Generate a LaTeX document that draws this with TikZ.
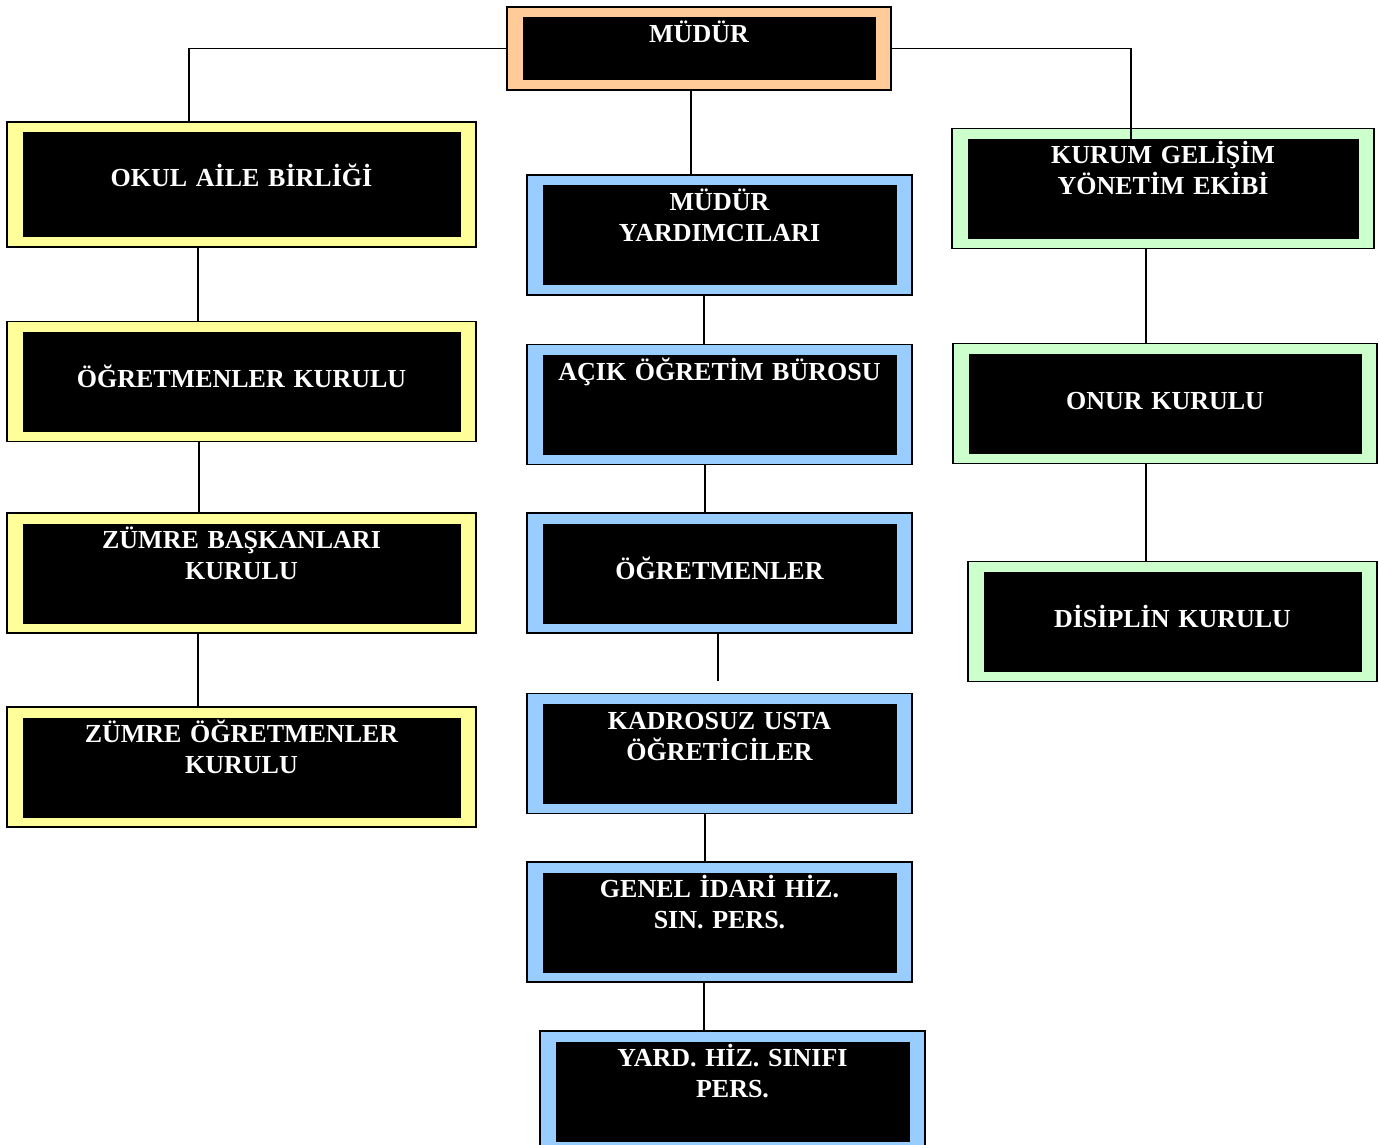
\documentclass[tikz,border=0pt]{standalone}
\usepackage{fontspec}
\setmainfont{Liberation Serif}
\usepackage{tikz}
\usetikzlibrary{positioning,calc}
\definecolor{peach}{RGB}{255,204,153}
\definecolor{lemon}{RGB}{255,255,153}
\definecolor{sky}{RGB}{153,204,255}
\definecolor{mint}{RGB}{204,255,204}
\tikzset{
    unit/.style={
        rectangle,
        draw=black,
        line width=0.9pt,
        inner sep=0pt,
        align=center,
        text=white,
        font=\fontsize{13}{15.5}\selectfont\bfseries,
        minimum height=60pt,
        text height=17.75pt,
        text depth=42.25pt,
        path picture={\fill[black] ([xshift=8pt,yshift=4.75pt]path picture bounding box.south west) rectangle ([xshift=-7.5pt,yshift=-5.25pt]path picture bounding box.north east);}
    },
    yellowunit/.style={unit, fill=lemon, minimum width=234.5pt, text width=200pt},
    blueunit/.style={unit, fill=sky, minimum width=192.5pt, text width=176pt},
    greenunit/.style={unit, fill=mint, text width=190pt},
    midtext/.style={text height=33pt, text depth=27pt},
    link/.style={draw=black, line width=0.8pt}
}
\begin{document}
\begin{tikzpicture}[x=0.5pt, y=-0.5pt]
    \useasboundingbox (0,0) rectangle (1379,1144);

    \node (mudur) [unit, fill=peach, minimum width=192pt, minimum height=41.5pt, text width=176pt, text height=18pt, text depth=23.5pt] at (699,48.5) {MÜDÜR};

    % sol sutun
    \node (okul) [yellowunit, minimum height=62.5pt, text height=32.5pt, text depth=30pt] at (241.5,184.5) {OKUL AİLE BİRLİĞİ};
    \node (ogrkurulu) [yellowunit, midtext] at (241.5,381.5) {ÖĞRETMENLER KURULU};
    \node (zumrebas) [yellowunit] at (241.5,573) {ZÜMRE BAŞKANLARI\\KURULU};
    \node (zumreogr) [yellowunit] at (241.5,767) {ZÜMRE ÖĞRETMENLER\\KURULU};

    % orta sutun
    \node (mudyard) [blueunit] at (719.5,235) {MÜDÜR\\YARDIMCILARI};
    \node (acik) [blueunit] at (719.5,404.5) {AÇIK ÖĞRETİM BÜROSU};
    \node (ogretmen) [blueunit, midtext] at (719.5,573) {ÖĞRETMENLER};
    \node (kadrosuz) [blueunit] at (719.5,753.5) {KADROSUZ USTA\\ÖĞRETİCİLER};
    \node (genel) [blueunit] at (719.5,922) {GENEL İDARİ HİZ.\\SIN. PERS.};
    \node (yardhiz) [blueunit] at (732.5,1091) {YARD. HİZ. SINIFI\\PERS.};

    % sag sutun
    \node (kurum) [greenunit, minimum width=211pt] at (1163,188.5) {KURUM GELİŞİM\\YÖNETİM EKİBİ};
    \node (onur) [greenunit, midtext, minimum width=212pt] at (1165,403.5) {ONUR KURULU};
    \node (disiplin) [greenunit, midtext, minimum width=204.5pt] at (1172.5,621.5) {DİSİPLİN KURULU};

    \coordinate (gap) at ([xshift=-0.75pt,yshift=6pt]kadrosuz.north);

    \draw [link] (mudur.west) -| ([xshift=-26.25pt]okul.north);
    \draw [link] (mudur.east) -| ([xshift=-16pt,yshift=-5.5pt]kurum.north);
    \draw [link] ([xshift=-4pt]mudur.south) -- ([xshift=-4pt]mudur.south |- mudyard.north);

    \draw [link] ([xshift=-21.75pt]okul.south) -- ([xshift=-21.75pt]okul.south |- ogrkurulu.north);
    \draw [link] ([xshift=-21.25pt]ogrkurulu.south) -- ([xshift=-21.25pt]ogrkurulu.south |- zumrebas.north);
    \draw [link] ([xshift=-21.75pt]zumrebas.south) -- ([xshift=-21.75pt]zumrebas.south |- zumreogr.north);

    \draw [link] ([xshift=-7.75pt]mudyard.south) -- ([xshift=-7.75pt]mudyard.south |- acik.north);
    \draw [link] ([xshift=-7.25pt]acik.south) -- ([xshift=-7.25pt]acik.south |- ogretmen.north);
    \draw [link] ([xshift=-0.75pt]ogretmen.south) -- (gap);
    \draw [link] ([xshift=-7.25pt]kadrosuz.south) -- ([xshift=-7.25pt]kadrosuz.south |- genel.north);
    \draw [link] ([xshift=-7.75pt]genel.south) -- ([xshift=-7.75pt]genel.south |- yardhiz.north);

    \draw [link] ([xshift=-8.5pt]kurum.south) -- ([xshift=-8.5pt]kurum.south |- onur.north);
    \draw [link] ([xshift=-9.5pt]onur.south) -- ([xshift=-9.5pt]onur.south |- disiplin.north);
\end{tikzpicture}
\end{document}
